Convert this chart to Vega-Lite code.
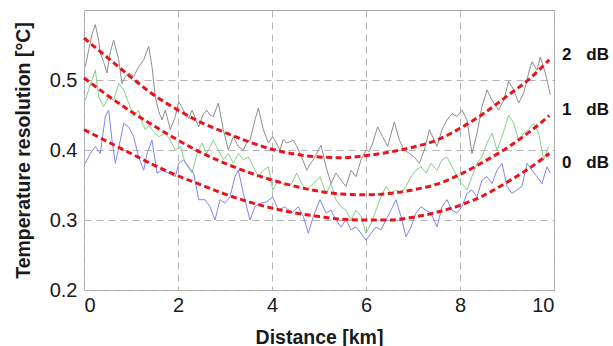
{
  "$schema": "https://vega.github.io/schema/vega-lite/v6.json",
  "width": 470,
  "height": 280,
  "autosize": "none",
  "padding": {"left": 84, "top": 10, "right": 59, "bottom": 56},
  "background": "white",
  "config": {
    "view": {"stroke": "#a8a8a8", "strokeWidth": 1},
    "font": "Liberation Sans"
  },
  "datasets": {
    "traces": [
      {"x":0.03,"y":0.519,"s":"2 dB"},{"x":0.099,"y":0.543,"s":"2 dB"},{"x":0.17,"y":0.565,"s":"2 dB"},{"x":0.241,"y":0.579,"s":"2 dB"},{"x":0.312,"y":0.557,"s":"2 dB"},{"x":0.347,"y":0.538,"s":"2 dB"},{"x":0.42,"y":0.525,"s":"2 dB"},{"x":0.489,"y":0.51,"s":"2 dB"},{"x":0.56,"y":0.54,"s":"2 dB"},{"x":0.631,"y":0.557,"s":"2 dB"},{"x":0.738,"y":0.529,"s":"2 dB"},{"x":0.809,"y":0.495,"s":"2 dB"},{"x":0.88,"y":0.505,"s":"2 dB"},{"x":0.95,"y":0.51,"s":"2 dB"},{"x":1.057,"y":0.505,"s":"2 dB"},{"x":1.163,"y":0.519,"s":"2 dB"},{"x":1.27,"y":0.529,"s":"2 dB"},{"x":1.376,"y":0.548,"s":"2 dB"},{"x":1.447,"y":0.519,"s":"2 dB"},{"x":1.518,"y":0.476,"s":"2 dB"},{"x":1.59,"y":0.455,"s":"2 dB"},{"x":1.66,"y":0.443,"s":"2 dB"},{"x":1.73,"y":0.457,"s":"2 dB"},{"x":1.837,"y":0.429,"s":"2 dB"},{"x":1.943,"y":0.448,"s":"2 dB"},{"x":2.014,"y":0.469,"s":"2 dB"},{"x":2.09,"y":0.46,"s":"2 dB"},{"x":2.156,"y":0.452,"s":"2 dB"},{"x":2.23,"y":0.445,"s":"2 dB"},{"x":2.298,"y":0.457,"s":"2 dB"},{"x":2.37,"y":0.445,"s":"2 dB"},{"x":2.44,"y":0.433,"s":"2 dB"},{"x":2.53,"y":0.45,"s":"2 dB"},{"x":2.61,"y":0.457,"s":"2 dB"},{"x":2.68,"y":0.45,"s":"2 dB"},{"x":2.752,"y":0.448,"s":"2 dB"},{"x":2.858,"y":0.467,"s":"2 dB"},{"x":2.965,"y":0.429,"s":"2 dB"},{"x":3.071,"y":0.4,"s":"2 dB"},{"x":3.177,"y":0.419,"s":"2 dB"},{"x":3.284,"y":0.405,"s":"2 dB"},{"x":3.39,"y":0.4,"s":"2 dB"},{"x":3.46,"y":0.41,"s":"2 dB"},{"x":3.532,"y":0.414,"s":"2 dB"},{"x":3.638,"y":0.443,"s":"2 dB"},{"x":3.709,"y":0.46,"s":"2 dB"},{"x":3.816,"y":0.429,"s":"2 dB"},{"x":3.922,"y":0.41,"s":"2 dB"},{"x":4.014,"y":0.419,"s":"2 dB"},{"x":4.09,"y":0.41,"s":"2 dB"},{"x":4.17,"y":0.4,"s":"2 dB"},{"x":4.24,"y":0.415,"s":"2 dB"},{"x":4.312,"y":0.41,"s":"2 dB"},{"x":4.454,"y":0.414,"s":"2 dB"},{"x":4.53,"y":0.405,"s":"2 dB"},{"x":4.596,"y":0.395,"s":"2 dB"},{"x":4.66,"y":0.385,"s":"2 dB"},{"x":4.738,"y":0.371,"s":"2 dB"},{"x":4.81,"y":0.38,"s":"2 dB"},{"x":4.879,"y":0.386,"s":"2 dB"},{"x":4.95,"y":0.395,"s":"2 dB"},{"x":5.043,"y":0.407,"s":"2 dB"},{"x":5.149,"y":0.376,"s":"2 dB"},{"x":5.255,"y":0.352,"s":"2 dB"},{"x":5.362,"y":0.367,"s":"2 dB"},{"x":5.468,"y":0.357,"s":"2 dB"},{"x":5.574,"y":0.348,"s":"2 dB"},{"x":5.681,"y":0.371,"s":"2 dB"},{"x":5.787,"y":0.362,"s":"2 dB"},{"x":5.894,"y":0.386,"s":"2 dB"},{"x":6.0,"y":0.4,"s":"2 dB"},{"x":6.07,"y":0.398,"s":"2 dB"},{"x":6.142,"y":0.41,"s":"2 dB"},{"x":6.248,"y":0.433,"s":"2 dB"},{"x":6.355,"y":0.419,"s":"2 dB"},{"x":6.461,"y":0.405,"s":"2 dB"},{"x":6.603,"y":0.44,"s":"2 dB"},{"x":6.709,"y":0.414,"s":"2 dB"},{"x":6.816,"y":0.4,"s":"2 dB"},{"x":6.922,"y":0.395,"s":"2 dB"},{"x":7.028,"y":0.39,"s":"2 dB"},{"x":7.135,"y":0.381,"s":"2 dB"},{"x":7.241,"y":0.4,"s":"2 dB"},{"x":7.348,"y":0.429,"s":"2 dB"},{"x":7.454,"y":0.414,"s":"2 dB"},{"x":7.511,"y":0.405,"s":"2 dB"},{"x":7.617,"y":0.429,"s":"2 dB"},{"x":7.723,"y":0.443,"s":"2 dB"},{"x":7.83,"y":0.452,"s":"2 dB"},{"x":7.936,"y":0.448,"s":"2 dB"},{"x":8.043,"y":0.457,"s":"2 dB"},{"x":8.149,"y":0.443,"s":"2 dB"},{"x":8.255,"y":0.395,"s":"2 dB"},{"x":8.362,"y":0.424,"s":"2 dB"},{"x":8.468,"y":0.462,"s":"2 dB"},{"x":8.574,"y":0.486,"s":"2 dB"},{"x":8.681,"y":0.471,"s":"2 dB"},{"x":8.823,"y":0.457,"s":"2 dB"},{"x":8.929,"y":0.471,"s":"2 dB"},{"x":9.035,"y":0.498,"s":"2 dB"},{"x":9.142,"y":0.486,"s":"2 dB"},{"x":9.248,"y":0.467,"s":"2 dB"},{"x":9.355,"y":0.481,"s":"2 dB"},{"x":9.461,"y":0.51,"s":"2 dB"},{"x":9.532,"y":0.526,"s":"2 dB"},{"x":9.638,"y":0.514,"s":"2 dB"},{"x":9.709,"y":0.533,"s":"2 dB"},{"x":9.816,"y":0.51,"s":"2 dB"},{"x":9.922,"y":0.479,"s":"2 dB"},
      {"x":0.028,"y":0.471,"s":"1 dB"},{"x":0.099,"y":0.486,"s":"1 dB"},{"x":0.17,"y":0.5,"s":"1 dB"},{"x":0.241,"y":0.514,"s":"1 dB"},{"x":0.312,"y":0.476,"s":"1 dB"},{"x":0.418,"y":0.462,"s":"1 dB"},{"x":0.525,"y":0.476,"s":"1 dB"},{"x":0.631,"y":0.471,"s":"1 dB"},{"x":0.738,"y":0.495,"s":"1 dB"},{"x":0.844,"y":0.486,"s":"1 dB"},{"x":0.95,"y":0.467,"s":"1 dB"},{"x":1.057,"y":0.448,"s":"1 dB"},{"x":1.163,"y":0.457,"s":"1 dB"},{"x":1.23,"y":0.44,"s":"1 dB"},{"x":1.305,"y":0.429,"s":"1 dB"},{"x":1.38,"y":0.435,"s":"1 dB"},{"x":1.447,"y":0.429,"s":"1 dB"},{"x":1.589,"y":0.419,"s":"1 dB"},{"x":1.73,"y":0.424,"s":"1 dB"},{"x":1.837,"y":0.414,"s":"1 dB"},{"x":1.943,"y":0.4,"s":"1 dB"},{"x":2.05,"y":0.405,"s":"1 dB"},{"x":2.156,"y":0.381,"s":"1 dB"},{"x":2.298,"y":0.367,"s":"1 dB"},{"x":2.404,"y":0.395,"s":"1 dB"},{"x":2.511,"y":0.41,"s":"1 dB"},{"x":2.61,"y":0.395,"s":"1 dB"},{"x":2.752,"y":0.414,"s":"1 dB"},{"x":2.858,"y":0.4,"s":"1 dB"},{"x":2.965,"y":0.386,"s":"1 dB"},{"x":3.071,"y":0.395,"s":"1 dB"},{"x":3.177,"y":0.381,"s":"1 dB"},{"x":3.284,"y":0.395,"s":"1 dB"},{"x":3.39,"y":0.386,"s":"1 dB"},{"x":3.496,"y":0.39,"s":"1 dB"},{"x":3.603,"y":0.376,"s":"1 dB"},{"x":3.709,"y":0.362,"s":"1 dB"},{"x":3.816,"y":0.371,"s":"1 dB"},{"x":3.922,"y":0.376,"s":"1 dB"},{"x":4.014,"y":0.343,"s":"1 dB"},{"x":4.135,"y":0.357,"s":"1 dB"},{"x":4.277,"y":0.348,"s":"1 dB"},{"x":4.418,"y":0.352,"s":"1 dB"},{"x":4.525,"y":0.367,"s":"1 dB"},{"x":4.631,"y":0.352,"s":"1 dB"},{"x":4.738,"y":0.343,"s":"1 dB"},{"x":4.879,"y":0.352,"s":"1 dB"},{"x":5.021,"y":0.362,"s":"1 dB"},{"x":5.149,"y":0.338,"s":"1 dB"},{"x":5.255,"y":0.352,"s":"1 dB"},{"x":5.362,"y":0.329,"s":"1 dB"},{"x":5.468,"y":0.319,"s":"1 dB"},{"x":5.574,"y":0.314,"s":"1 dB"},{"x":5.681,"y":0.3,"s":"1 dB"},{"x":5.787,"y":0.314,"s":"1 dB"},{"x":5.894,"y":0.305,"s":"1 dB"},{"x":6.0,"y":0.281,"s":"1 dB"},{"x":6.106,"y":0.295,"s":"1 dB"},{"x":6.213,"y":0.314,"s":"1 dB"},{"x":6.319,"y":0.333,"s":"1 dB"},{"x":6.426,"y":0.348,"s":"1 dB"},{"x":6.532,"y":0.338,"s":"1 dB"},{"x":6.638,"y":0.343,"s":"1 dB"},{"x":6.745,"y":0.338,"s":"1 dB"},{"x":6.851,"y":0.348,"s":"1 dB"},{"x":6.957,"y":0.362,"s":"1 dB"},{"x":7.064,"y":0.371,"s":"1 dB"},{"x":7.17,"y":0.376,"s":"1 dB"},{"x":7.277,"y":0.367,"s":"1 dB"},{"x":7.383,"y":0.381,"s":"1 dB"},{"x":7.511,"y":0.371,"s":"1 dB"},{"x":7.617,"y":0.386,"s":"1 dB"},{"x":7.723,"y":0.39,"s":"1 dB"},{"x":7.83,"y":0.376,"s":"1 dB"},{"x":7.936,"y":0.362,"s":"1 dB"},{"x":8.043,"y":0.352,"s":"1 dB"},{"x":8.149,"y":0.343,"s":"1 dB"},{"x":8.255,"y":0.362,"s":"1 dB"},{"x":8.362,"y":0.381,"s":"1 dB"},{"x":8.468,"y":0.39,"s":"1 dB"},{"x":8.574,"y":0.41,"s":"1 dB"},{"x":8.681,"y":0.424,"s":"1 dB"},{"x":8.787,"y":0.4,"s":"1 dB"},{"x":8.894,"y":0.419,"s":"1 dB"},{"x":9.035,"y":0.45,"s":"1 dB"},{"x":9.142,"y":0.438,"s":"1 dB"},{"x":9.248,"y":0.414,"s":"1 dB"},{"x":9.355,"y":0.424,"s":"1 dB"},{"x":9.461,"y":0.429,"s":"1 dB"},{"x":9.567,"y":0.438,"s":"1 dB"},{"x":9.674,"y":0.424,"s":"1 dB"},{"x":9.78,"y":0.386,"s":"1 dB"},{"x":9.887,"y":0.405,"s":"1 dB"},
      {"x":0.028,"y":0.381,"s":"0 dB"},{"x":0.135,"y":0.395,"s":"0 dB"},{"x":0.241,"y":0.405,"s":"0 dB"},{"x":0.347,"y":0.395,"s":"0 dB"},{"x":0.454,"y":0.448,"s":"0 dB"},{"x":0.525,"y":0.457,"s":"0 dB"},{"x":0.596,"y":0.414,"s":"0 dB"},{"x":0.667,"y":0.381,"s":"0 dB"},{"x":0.773,"y":0.414,"s":"0 dB"},{"x":0.844,"y":0.438,"s":"0 dB"},{"x":0.95,"y":0.433,"s":"0 dB"},{"x":1.057,"y":0.419,"s":"0 dB"},{"x":1.163,"y":0.39,"s":"0 dB"},{"x":1.27,"y":0.371,"s":"0 dB"},{"x":1.34,"y":0.395,"s":"0 dB"},{"x":1.447,"y":0.414,"s":"0 dB"},{"x":1.553,"y":0.367,"s":"0 dB"},{"x":1.66,"y":0.371,"s":"0 dB"},{"x":1.801,"y":0.367,"s":"0 dB"},{"x":1.943,"y":0.362,"s":"0 dB"},{"x":2.014,"y":0.381,"s":"0 dB"},{"x":2.121,"y":0.386,"s":"0 dB"},{"x":2.227,"y":0.376,"s":"0 dB"},{"x":2.333,"y":0.367,"s":"0 dB"},{"x":2.44,"y":0.329,"s":"0 dB"},{"x":2.574,"y":0.329,"s":"0 dB"},{"x":2.681,"y":0.319,"s":"0 dB"},{"x":2.787,"y":0.3,"s":"0 dB"},{"x":2.894,"y":0.329,"s":"0 dB"},{"x":3.0,"y":0.324,"s":"0 dB"},{"x":3.106,"y":0.333,"s":"0 dB"},{"x":3.213,"y":0.362,"s":"0 dB"},{"x":3.284,"y":0.371,"s":"0 dB"},{"x":3.39,"y":0.338,"s":"0 dB"},{"x":3.532,"y":0.3,"s":"0 dB"},{"x":3.638,"y":0.319,"s":"0 dB"},{"x":3.745,"y":0.324,"s":"0 dB"},{"x":3.887,"y":0.326,"s":"0 dB"},{"x":4.014,"y":0.333,"s":"0 dB"},{"x":4.135,"y":0.314,"s":"0 dB"},{"x":4.277,"y":0.319,"s":"0 dB"},{"x":4.418,"y":0.31,"s":"0 dB"},{"x":4.56,"y":0.319,"s":"0 dB"},{"x":4.667,"y":0.305,"s":"0 dB"},{"x":4.773,"y":0.281,"s":"0 dB"},{"x":4.879,"y":0.305,"s":"0 dB"},{"x":5.021,"y":0.329,"s":"0 dB"},{"x":5.149,"y":0.31,"s":"0 dB"},{"x":5.255,"y":0.314,"s":"0 dB"},{"x":5.362,"y":0.3,"s":"0 dB"},{"x":5.468,"y":0.29,"s":"0 dB"},{"x":5.574,"y":0.3,"s":"0 dB"},{"x":5.681,"y":0.286,"s":"0 dB"},{"x":5.787,"y":0.29,"s":"0 dB"},{"x":5.894,"y":0.281,"s":"0 dB"},{"x":6.0,"y":0.271,"s":"0 dB"},{"x":6.106,"y":0.281,"s":"0 dB"},{"x":6.213,"y":0.29,"s":"0 dB"},{"x":6.319,"y":0.286,"s":"0 dB"},{"x":6.426,"y":0.3,"s":"0 dB"},{"x":6.532,"y":0.314,"s":"0 dB"},{"x":6.638,"y":0.329,"s":"0 dB"},{"x":6.745,"y":0.305,"s":"0 dB"},{"x":6.851,"y":0.276,"s":"0 dB"},{"x":6.957,"y":0.29,"s":"0 dB"},{"x":7.064,"y":0.31,"s":"0 dB"},{"x":7.17,"y":0.319,"s":"0 dB"},{"x":7.277,"y":0.314,"s":"0 dB"},{"x":7.383,"y":0.31,"s":"0 dB"},{"x":7.511,"y":0.29,"s":"0 dB"},{"x":7.617,"y":0.319,"s":"0 dB"},{"x":7.723,"y":0.329,"s":"0 dB"},{"x":7.83,"y":0.314,"s":"0 dB"},{"x":7.936,"y":0.31,"s":"0 dB"},{"x":8.043,"y":0.319,"s":"0 dB"},{"x":8.149,"y":0.338,"s":"0 dB"},{"x":8.255,"y":0.343,"s":"0 dB"},{"x":8.362,"y":0.333,"s":"0 dB"},{"x":8.468,"y":0.357,"s":"0 dB"},{"x":8.574,"y":0.362,"s":"0 dB"},{"x":8.681,"y":0.352,"s":"0 dB"},{"x":8.787,"y":0.371,"s":"0 dB"},{"x":8.894,"y":0.381,"s":"0 dB"},{"x":9.0,"y":0.348,"s":"0 dB"},{"x":9.106,"y":0.338,"s":"0 dB"},{"x":9.213,"y":0.343,"s":"0 dB"},{"x":9.319,"y":0.348,"s":"0 dB"},{"x":9.426,"y":0.381,"s":"0 dB"},{"x":9.532,"y":0.371,"s":"0 dB"},{"x":9.638,"y":0.362,"s":"0 dB"},{"x":9.745,"y":0.352,"s":"0 dB"},{"x":9.851,"y":0.376,"s":"0 dB"},{"x":9.922,"y":0.367,"s":"0 dB"}
    ],
    "fits": [
      {"x":0,"y":0.56,"s":"2 dB"},{"x":0.5,"y":0.532,"s":"2 dB"},{"x":1.0,"y":0.504,"s":"2 dB"},{"x":1.5,"y":0.478,"s":"2 dB"},{"x":2.0,"y":0.457,"s":"2 dB"},{"x":2.5,"y":0.439,"s":"2 dB"},{"x":3.0,"y":0.425,"s":"2 dB"},{"x":3.5,"y":0.412,"s":"2 dB"},{"x":4.0,"y":0.401,"s":"2 dB"},{"x":4.5,"y":0.394,"s":"2 dB"},{"x":5.0,"y":0.39,"s":"2 dB"},{"x":5.5,"y":0.389,"s":"2 dB"},{"x":6.0,"y":0.392,"s":"2 dB"},{"x":6.5,"y":0.397,"s":"2 dB"},{"x":7.0,"y":0.404,"s":"2 dB"},{"x":7.5,"y":0.414,"s":"2 dB"},{"x":8.0,"y":0.431,"s":"2 dB"},{"x":8.5,"y":0.452,"s":"2 dB"},{"x":9.0,"y":0.477,"s":"2 dB"},{"x":9.5,"y":0.503,"s":"2 dB"},{"x":9.9,"y":0.529,"s":"2 dB"},
      {"x":0,"y":0.503,"s":"1 dB"},{"x":0.5,"y":0.478,"s":"1 dB"},{"x":1.0,"y":0.455,"s":"1 dB"},{"x":1.5,"y":0.434,"s":"1 dB"},{"x":2.0,"y":0.414,"s":"1 dB"},{"x":2.5,"y":0.396,"s":"1 dB"},{"x":3.0,"y":0.381,"s":"1 dB"},{"x":3.5,"y":0.368,"s":"1 dB"},{"x":4.0,"y":0.357,"s":"1 dB"},{"x":4.5,"y":0.348,"s":"1 dB"},{"x":5.0,"y":0.341,"s":"1 dB"},{"x":5.5,"y":0.337,"s":"1 dB"},{"x":6.0,"y":0.336,"s":"1 dB"},{"x":6.5,"y":0.338,"s":"1 dB"},{"x":7.0,"y":0.343,"s":"1 dB"},{"x":7.5,"y":0.351,"s":"1 dB"},{"x":8.0,"y":0.365,"s":"1 dB"},{"x":8.5,"y":0.383,"s":"1 dB"},{"x":9.0,"y":0.403,"s":"1 dB"},{"x":9.5,"y":0.427,"s":"1 dB"},{"x":9.9,"y":0.449,"s":"1 dB"},
      {"x":0,"y":0.429,"s":"0 dB"},{"x":0.5,"y":0.412,"s":"0 dB"},{"x":1.0,"y":0.395,"s":"0 dB"},{"x":1.5,"y":0.378,"s":"0 dB"},{"x":2.0,"y":0.363,"s":"0 dB"},{"x":2.5,"y":0.35,"s":"0 dB"},{"x":3.0,"y":0.337,"s":"0 dB"},{"x":3.5,"y":0.326,"s":"0 dB"},{"x":4.0,"y":0.317,"s":"0 dB"},{"x":4.5,"y":0.31,"s":"0 dB"},{"x":5.0,"y":0.305,"s":"0 dB"},{"x":5.5,"y":0.301,"s":"0 dB"},{"x":6.0,"y":0.3,"s":"0 dB"},{"x":6.5,"y":0.3,"s":"0 dB"},{"x":7.0,"y":0.304,"s":"0 dB"},{"x":7.5,"y":0.311,"s":"0 dB"},{"x":8.0,"y":0.321,"s":"0 dB"},{"x":8.5,"y":0.335,"s":"0 dB"},{"x":9.0,"y":0.354,"s":"0 dB"},{"x":9.5,"y":0.375,"s":"0 dB"},{"x":9.9,"y":0.395,"s":"0 dB"}
    ],
    "labels": [
      {"x":10.27,"y":0.536,"num":"2","unit":"dB"},
      {"x":10.27,"y":0.457,"num":"1","unit":"dB"},
      {"x":10.27,"y":0.381,"num":"0","unit":"dB"}
    ]
  },
  "encoding": {
    "x": {
      "field": "x", "type": "quantitative",
      "scale": {"domain": [0, 10], "nice": false, "zero": false},
      "axis": {
        "title": "Distance [km]", "values": [0, 2, 4, 6, 8, 10], "format": "d",
        "domain": false, "ticks": false, "labelPadding": 5,
        "labelFontSize": 20, "labelColor": "#1a1a1a", "labelFont": "Liberation Sans",
        "titleFontSize": 19.5, "titleFontWeight": "bold", "titleColor": "#1a1a1a", "titleFont": "Liberation Sans", "titlePadding": 13,
        "grid": true, "gridColor": "#b4b4b4", "gridDash": [7, 5], "gridWidth": 1
      }
    },
    "y": {
      "field": "y", "type": "quantitative",
      "scale": {"domain": [0.2, 0.6], "nice": false, "zero": false},
      "axis": {
        "title": "Temperature resolution [°C]", "values": [0.2, 0.3, 0.4, 0.5], "format": ".1f",
        "domain": false, "ticks": false, "labelPadding": 7,
        "labelFontSize": 20, "labelColor": "#1a1a1a", "labelFont": "Liberation Sans",
        "titleFontSize": 19.5, "titleFontWeight": "bold", "titleColor": "#1a1a1a", "titleFont": "Liberation Sans", "titlePadding": 16,
        "grid": true, "gridColor": "#b4b4b4", "gridDash": [7, 5], "gridWidth": 1
      }
    }
  },
  "layer": [
    {
      "data": {"name": "traces"},
      "mark": {"type": "line", "strokeWidth": 1, "clip": true},
      "encoding": {
        "color": {
          "field": "s", "type": "nominal", "legend": null,
          "scale": {"domain": ["2 dB", "1 dB", "0 dB"], "range": ["#8e8e8e", "#86cf86", "#8484ee"]}
        },
        "detail": {"field": "s"}
      }
    },
    {
      "data": {"name": "fits"},
      "mark": {"type": "line", "strokeWidth": 3, "strokeDash": [6, 3.5], "color": "#e8141c", "interpolate": "monotone"},
      "encoding": {"detail": {"field": "s"}}
    },
    {
      "data": {"name": "labels"},
      "mark": {"type": "text", "fontSize": 17, "fontWeight": "bold", "font": "Liberation Sans", "color": "#111111", "align": "center", "baseline": "middle"},
      "encoding": {"text": {"field": "num"}}
    },
    {
      "data": {"name": "labels"},
      "mark": {"type": "text", "fontSize": 17, "fontWeight": "bold", "font": "Liberation Sans", "color": "#111111", "align": "center", "baseline": "middle", "dx": 31},
      "encoding": {"text": {"field": "unit"}}
    }
  ]
}
